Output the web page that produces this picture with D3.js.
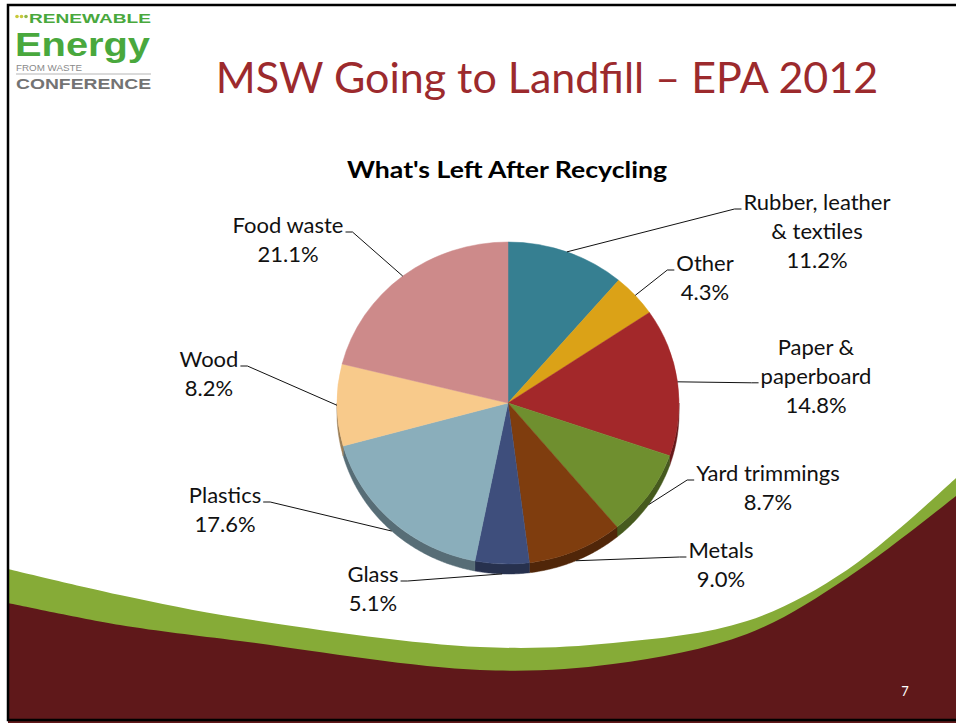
<!DOCTYPE html>
<html lang="en">
<head>
  <meta charset="UTF-8" />
  <title>MSW Going to Landfill – EPA 2012</title>
  <style>
    body {
      margin: 0;
      background: #fff;
      font-family: Lato, 'Open Sans', sans-serif;
    }
    svg { display: block; }
    .label text { font-size: 22px; fill: #111; }
    .leader { fill: none; stroke: #111; stroke-width: 1; }
  </style>
</head>
<body>
  <svg id="slide" width="956" height="723"></svg>

  <script src="https://d3js.org/d3.v7.min.js"></script>
  <script>
    // Data, clockwise from 12 o'clock
    const categories = [
      "Rubber, leather & textiles", "Other", "Paper & paperboard",
      "Yard trimmings", "Metals", "Glass", "Plastics", "Wood", "Food waste"
    ];
    const shares = [11.2, 4.3, 14.8, 8.7, 9.0, 5.1, 17.6, 8.2, 21.1];
    const labelLines = [
      ["Rubber, leather", "& textiles"], ["Other"], ["Paper &", "paperboard"],
      ["Yard trimmings"], ["Metals"], ["Glass"], ["Plastics"], ["Wood"], ["Food waste"]
    ];
    const sliceColors = [
      "#367f91", "#dba217", "#a3282a", "#6f8f2f", "#7f3d0e",
      "#3e4e7c", "#8aaebb", "#f8ca8b", "#cd8a8a"
    ];

    // label layout (centre x, first baseline, line the leader joins)
    const labelX = [817, 705, 816, 768, 721, 373, 225, 209, 288];
    const labelY = [210, 271, 355, 481, 558, 582, 503, 367, 233];
    const attachLine = [0, 0, 1, 0, 0, 0, 0, 0, 0];
    const lineGap = 28.8;

    const svg = d3.select("#slide");
    const W = 956, H = 723;

    // ---- background swoosh ----
    const swoosh = d3.line().curve(d3.curveCatmullRom.alpha(0.5));
    const greenTop = [[8, 569], [120, 595], [240, 618], [480, 647], [613, 643], [747, 621], [847, 570], [956, 478]];
    const maroonTop = [[8, 603], [120, 625], [240, 641], [480, 670], [613, 664], [747, 634], [847, 578], [956, 496]];
    svg.append("path")
       .attr("d", swoosh(greenTop) + `L${W},${H}L8,${H}Z`)
       .attr("fill", "#86ab37");
    svg.append("path")
       .attr("d", swoosh(maroonTop) + `L${W},${H}L8,${H}Z`)
       .attr("fill", "#5f181a");

    // slide frame
    svg.append("rect")
       .attr("x", 8).attr("y", 5)
       .attr("width", W + 10).attr("height", 715)
       .attr("fill", "none")
       .attr("stroke", "#000")
       .attr("stroke-width", 2.5);

    svg.append("text")
       .attr("x", 905).attr("y", 696)
       .attr("text-anchor", "middle")
       .attr("fill", "#fff")
       .attr("font-size", 13)
       .text("7");

    // ---- logo ----
    const logo = svg.append("g").attr("font-family", "'Liberation Sans', Arial, sans-serif");
    ["#c9c93a", "#c9c93a", "#8fb84a"].forEach((c, i) => {
      logo.append("circle").attr("cx", 17 + i * 4.5).attr("cy", 16.5).attr("r", 1.8).attr("fill", c);
    });
    logo.append("text")
        .attr("x", 29).attr("y", 23)
        .attr("font-size", 12).attr("font-weight", "bold")
        .attr("fill", "#49a83d")
        .attr("textLength", 122).attr("lengthAdjust", "spacingAndGlyphs")
        .text("RENEWABLE");
    logo.append("text")
        .attr("x", 15).attr("y", 56)
        .attr("font-size", 33).attr("font-weight", "bold")
        .attr("fill", "#49a83d")
        .attr("textLength", 135).attr("lengthAdjust", "spacingAndGlyphs")
        .text("Energy");
    logo.append("text")
        .attr("x", 16).attr("y", 71)
        .attr("font-size", 8.5)
        .attr("fill", "#8a8a8a")
        .attr("textLength", 66).attr("lengthAdjust", "spacingAndGlyphs")
        .text("FROM WASTE");
    logo.append("line")
        .attr("x1", 16).attr("x2", 151).attr("y1", 74).attr("y2", 74)
        .attr("stroke", "#b5b5b5").attr("stroke-width", 1);
    logo.append("text")
        .attr("x", 16).attr("y", 89)
        .attr("font-size", 14).attr("font-weight", "bold")
        .attr("fill", "#737373")
        .attr("textLength", 135).attr("lengthAdjust", "spacingAndGlyphs")
        .text("CONFERENCE");

    // ---- titles ----
    svg.append("text")
       .attr("x", 547).attr("y", 93)
       .attr("text-anchor", "middle")
       .attr("font-size", 43)
       .attr("fill", "#9c2a2d")
       .text("MSW Going to Landfill – EPA 2012");

    svg.append("text")
       .attr("x", 507).attr("y", 178)
       .attr("text-anchor", "middle")
       .attr("font-size", 23)
       .attr("font-weight", "bold")
       .attr("fill", "#000")
       .attr("textLength", 320).attr("lengthAdjust", "spacingAndGlyphs")
       .text("What's Left After Recycling");

    // ---- pie (slightly tilted, with a thin 3D rim) ----
    const cx = 508, cy = 403, rx = 171, ry = 161, depth = 10;
    const pie = d3.pie().sort(null).value(d => d)(shares);
    const arc = d3.arc().innerRadius(0).outerRadius(rx);
    const color = d3.scaleOrdinal().domain(categories).range(sliceColors);

    const ellipsePt = (a, dy = 0) => [cx + rx * Math.sin(a), cy - ry * Math.cos(a) + dy];

    // side walls, only the front half shows
    const rim = svg.append("g");
    pie.forEach((s, i) => {
      const a0 = Math.max(s.startAngle, Math.PI / 2);
      const a1 = Math.min(s.endAngle, Math.PI * 1.5);
      if (a1 <= a0) return;
      const ts = d3.range(a0, a1, 0.01).concat([a1]);
      const top = ts.map(t => ellipsePt(t));
      const bottom = ts.slice().reverse().map(t => ellipsePt(t, depth));
      rim.append("path")
         .attr("d", d3.line()(top.concat(bottom)) + "Z")
         .attr("fill", d3.color(color(categories[i])).darker(1.3))
         .attr("stroke", d3.color(color(categories[i])).darker(1.3))
         .attr("stroke-width", 0.5);
    });

    const face = svg.append("g")
       .attr("transform", `translate(${cx},${cy}) scale(1,${ry / rx})`);
    face.selectAll("path")
        .data(pie)
        .join("path")
        .attr("d", arc)
        .attr("fill", (d, i) => color(categories[i]))
        .attr("stroke", (d, i) => color(categories[i]))
        .attr("stroke-width", 0.5);

    // ---- labels + leader lines ----
    const labels = svg.append("g").attr("class", "label");
    pie.forEach((s, i) => {
      const lines = labelLines[i].concat([shares[i].toFixed(1) + "%"]);
      const g = labels.append("g");
      const texts = lines.map((ln, k) =>
        g.append("text")
         .attr("x", labelX[i])
         .attr("y", labelY[i] + k * lineGap)
         .attr("text-anchor", "middle")
         .text(ln));

      const mid = (s.startAngle + s.endAngle) / 2;
      const drop = depth * Math.max(0, Math.min(1, -Math.cos(mid) * 2));
      const start = ellipsePt(mid, drop);
      const onRight = labelX[i] > cx;
      const w = texts[attachLine[i]].node().getComputedTextLength();
      const edge = labelX[i] + (onRight ? -w / 2 - 2 : w / 2 + 2);
      const ay = labelY[i] + attachLine[i] * lineGap - 1;
      const dir = onRight ? -1 : 1;
      svg.append("path")
         .attr("class", "leader")
         .attr("d", d3.line()([start, [edge + dir * 7, ay], [edge, ay]]));
    });
  </script>
</body>
</html>
